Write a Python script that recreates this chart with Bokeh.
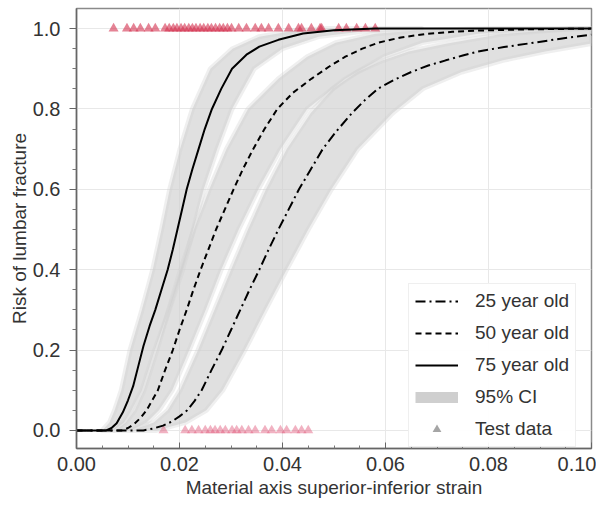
from bokeh.plotting import figure
from bokeh.models import (Range1d, FixedTicker, Legend, LegendItem, ColumnDataSource,
                          PrintfTickFormatter, Title)
from bokeh.embed import file_html
from bokeh.resources import INLINE

# ---------------- data ----------------
x_ticks = [0.00, 0.02, 0.04, 0.06, 0.08, 0.10]
x_minor = [0.005, 0.01, 0.015, 0.025, 0.03, 0.035, 0.045, 0.05, 0.055,
           0.065, 0.07, 0.075, 0.085, 0.09, 0.095]
y_ticks = [0.0, 0.2, 0.4, 0.6, 0.8, 1.0]
y_minor = [0.05, 0.1, 0.15, 0.25, 0.3, 0.35, 0.45, 0.5, 0.55, 0.65, 0.7,
           0.75, 0.85, 0.9, 0.95]

# 75 year old (solid)
r75_x = [0.0, 0.0058, 0.0068, 0.0078, 0.0090, 0.0100, 0.0110, 0.0120, 0.0130, 0.0142,
         0.0153, 0.0165, 0.0177, 0.0187, 0.0196, 0.0205, 0.0214, 0.0225, 0.0237, 0.0249,
         0.0263, 0.0281, 0.0302, 0.0330, 0.0355, 0.0392, 0.0440, 0.0500, 0.0580, 0.1000]
r75_y = [0.0, 0.0, 0.006, 0.018, 0.045, 0.075, 0.11, 0.16, 0.21, 0.26,
         0.30, 0.35, 0.40, 0.45, 0.50, 0.55, 0.60, 0.65, 0.70, 0.75,
         0.80, 0.85, 0.90, 0.935, 0.955, 0.972, 0.988, 0.996, 1.0, 1.0]
b75_y  = [0.000, 0.020, 0.050, 0.100, 0.200, 0.300, 0.400, 0.500, 0.600, 0.700, 0.800, 0.900, 0.950, 0.980, 0.995, 1.000]
b75_lo = [0.0050, 0.0064, 0.0074, 0.0087, 0.0104, 0.0127, 0.0148, 0.0165, 0.0181, 0.0201, 0.0225, 0.0260, 0.0303, 0.0355, 0.0425, 0.0490]
b75_hi = [0.0072, 0.0092, 0.0107, 0.0127, 0.0152, 0.0180, 0.0206, 0.0227, 0.0247, 0.0273, 0.0302, 0.0345, 0.0400, 0.0470, 0.0570, 0.0670]

# 50 year old (dashed)
r50_x = [0.0, 0.0088, 0.0100, 0.0112, 0.0125, 0.0136, 0.0147, 0.0158, 0.0172, 0.0187,
         0.0200, 0.0214, 0.0227, 0.0241, 0.0256, 0.0271, 0.0288, 0.0305, 0.0323, 0.0343,
         0.0365, 0.0390, 0.0420, 0.0456, 0.0490, 0.0522, 0.0555, 0.0586, 0.0630, 0.0680,
         0.0730, 0.0780, 0.0870, 0.1000]
r50_y = [0.0, 0.0, 0.006, 0.016, 0.032, 0.05, 0.075, 0.10, 0.15, 0.20,
         0.25, 0.30, 0.35, 0.40, 0.45, 0.50, 0.55, 0.60, 0.65, 0.70,
         0.75, 0.80, 0.84, 0.875, 0.905, 0.93, 0.95, 0.965, 0.978, 0.987,
         0.992, 0.995, 0.998, 1.0]
b50_y  = [0.000, 0.020, 0.050, 0.100, 0.200, 0.300, 0.400, 0.500, 0.600, 0.700, 0.800, 0.875, 0.930, 0.965, 0.987, 0.995, 1.000]
b50_lo = [0.0075, 0.0096, 0.0113, 0.0131, 0.0156, 0.0179, 0.0202, 0.0228, 0.0258, 0.0291, 0.0333, 0.0392, 0.0448, 0.0503, 0.0580, 0.0660, 0.0810]
b50_hi = [0.0105, 0.0136, 0.0160, 0.0186, 0.0219, 0.0251, 0.0281, 0.0315, 0.0353, 0.0396, 0.0448, 0.0522, 0.0597, 0.0672, 0.0780, 0.0890, 0.1000]

# 25 year old (dash-dot)
r25_x = [0.0, 0.0130, 0.0150, 0.0168, 0.0185, 0.0200, 0.0215, 0.0229, 0.0243, 0.0262,
         0.0282, 0.0300, 0.0318, 0.0336, 0.0355, 0.0373, 0.0392, 0.0412, 0.0432, 0.0455,
         0.0478, 0.0505, 0.0535, 0.0560, 0.0586, 0.0618, 0.0650, 0.0683, 0.0717, 0.0750,
         0.0780, 0.0830, 0.0878, 0.0940, 0.1000]
r25_y = [0.0, 0.0, 0.005, 0.012, 0.022, 0.035, 0.05, 0.073, 0.10, 0.15,
         0.20, 0.25, 0.30, 0.35, 0.40, 0.45, 0.50, 0.55, 0.60, 0.65,
         0.70, 0.745, 0.79, 0.822, 0.851, 0.873, 0.892, 0.908, 0.921, 0.933,
         0.943, 0.954, 0.963, 0.975, 0.985]
b25_y  = [0.000, 0.020, 0.050, 0.100, 0.200, 0.300, 0.400, 0.500, 0.600, 0.700, 0.790, 0.851, 0.892, 0.921, 0.943, 0.963, 0.985, 1.000]
b25_lo = [0.0108, 0.0150, 0.0177, 0.0201, 0.0236, 0.0268, 0.0300, 0.0333, 0.0368, 0.0408, 0.0455, 0.0498, 0.0545, 0.0595, 0.0645, 0.0720, 0.0820, 0.0960]
b25_hi = [0.0155, 0.0212, 0.0252, 0.0284, 0.0327, 0.0367, 0.0408, 0.0450, 0.0495, 0.0546, 0.0614, 0.0673, 0.0748, 0.0828, 0.0910, 0.1000, 0.1000, 0.1000]

# test data: fractured (risk 1) and not fractured (risk 0)
test_frac_x = [0.0072, 0.0098, 0.0111, 0.0124, 0.0140, 0.0153, 0.0172, 0.0180, 0.0188,
               0.0195, 0.0203, 0.0210, 0.0218, 0.0225, 0.0232, 0.0240, 0.0247, 0.0255,
               0.0262, 0.0270, 0.0278, 0.0285, 0.0293, 0.0301, 0.0315, 0.0330, 0.0347,
               0.0359, 0.0373, 0.0392, 0.0412, 0.0431, 0.0437, 0.0456, 0.0473, 0.0476,
               0.0509, 0.0524, 0.0544, 0.0561, 0.0580]
test_frac_y = [1.0] * len(test_frac_x)
test_nofrac_x = [0.0169, 0.0211, 0.0224, 0.0237, 0.0250, 0.0260, 0.0269, 0.0279, 0.0289,
                 0.0302, 0.0311, 0.0321, 0.0334, 0.0347, 0.0366, 0.0379, 0.0396, 0.0408,
                 0.0425, 0.0437, 0.0450]
test_nofrac_y = [0.0] * len(test_nofrac_x)

FONT = "Liberation Sans"

p = figure(frame_width=515, frame_height=440,
           x_range=Range1d(0.0, 0.1), y_range=Range1d(-0.045, 1.05),
           output_backend="svg", toolbar_location=None,
           min_border_left=76, min_border_right=5, min_border_top=8, min_border_bottom=44)

p.outline_line_color = "#8a8a8a"
p.outline_line_width = 1.5
p.background_fill_color = "white"

p.xgrid.grid_line_color = "#e8e8e8"
p.ygrid.grid_line_color = "#e8e8e8"

p.xaxis.ticker = FixedTicker(ticks=x_ticks, minor_ticks=x_minor)
p.yaxis.ticker = FixedTicker(ticks=y_ticks, minor_ticks=y_minor)
p.xaxis.formatter = PrintfTickFormatter(format="%.2f")
p.yaxis.formatter = PrintfTickFormatter(format="%.1f")
p.xaxis.axis_label = "Material axis superior-inferior strain"
for ax in (p.xaxis, p.yaxis):
    ax.axis_label_text_font = FONT
    ax.axis_label_text_font_style = "normal"
    ax.axis_label_text_font_size = "19px"
    ax.axis_label_text_color = "#333333"
    ax.major_label_text_font = FONT
    ax.major_label_text_font_size = "20px"
    ax.major_label_text_color = "#333333"
    ax.axis_line_color = "#666666"
    ax.axis_line_width = 1.5
    ax.major_tick_line_color = "#666666"
    ax.minor_tick_line_color = "#777777"
p.xaxis.major_tick_in = 6
p.xaxis.major_tick_out = 0
p.xaxis.minor_tick_in = 3
p.xaxis.minor_tick_out = 0
p.xaxis.major_label_standoff = 8
p.xaxis.axis_label_standoff = 3
p.yaxis.major_tick_in = 0
p.yaxis.major_tick_out = 7
p.yaxis.minor_tick_in = 0
p.yaxis.minor_tick_out = 4
p.yaxis.major_label_standoff = 9

# y-axis title as a left-side title, nudged to sit centred on the frame
p.add_layout(Title(text="Risk of lumbar fracture", align="center", offset=-37,
                   text_font=FONT, text_font_size="19px", text_font_style="normal",
                   text_color="#333333", standoff=0), "left")

# CI bands (soft edged)
band_color = "#d0d0d0"
for by, blo, bhi in ((b25_y, b25_lo, b25_hi), (b50_y, b50_lo, b50_hi), (b75_y, b75_lo, b75_hi)):
    p.patch(x=list(blo) + list(bhi[::-1]), y=list(by) + list(by[::-1]),
            fill_color=band_color, fill_alpha=0.65,
            line_color=band_color, line_alpha=0.35, line_width=5, line_join="round")

# test data
p.scatter(test_frac_x, test_frac_y, marker="triangle", size=10,
          fill_color="#d3304f", fill_alpha=0.6, line_color=None)
p.scatter(test_nofrac_x, test_nofrac_y, marker="triangle", size=10,
          fill_color="#e05577", fill_alpha=0.45, line_color=None)

# curves
l25 = p.line(r25_x, r25_y, line_color="black", line_width=2, line_dash="10 4 2 4")
l50 = p.line(r50_x, r50_y, line_color="black", line_width=2, line_dash="6 4")
l75 = p.line(r75_x, r75_y, line_color="black", line_width=2)

# legend-only renderers (a single NaN point, never drawn in the plot)
nan_src = ColumnDataSource(dict(x=[float("nan")], y=[float("nan")]))
ci_dummy = p.line("x", "y", source=nan_src, line_color="#cfcfcf", line_width=11)
tri_dummy = p.scatter("x", "y", source=nan_src, marker="triangle", size=9,
                      fill_color="#a5a5a5", line_color=None)

legend = Legend(items=[
    LegendItem(label="25 year old", renderers=[l25]),
    LegendItem(label="50 year old", renderers=[l50]),
    LegendItem(label="75 year old", renderers=[l75]),
    LegendItem(label="95% CI", renderers=[ci_dummy]),
    LegendItem(label="Test data", renderers=[tri_dummy]),
], location=(332, 1))
legend.label_text_font = FONT
legend.label_text_font_size = "19px"
legend.label_text_color = "#333333"
legend.glyph_width = 43
legend.glyph_height = 22
legend.label_height = 22
legend.label_standoff = 17
legend.spacing = 10
legend.padding = 6
legend.margin = 0
legend.border_line_color = "#e0e0e0"
legend.background_fill_color = "white"
legend.background_fill_alpha = 0.95
p.add_layout(legend)

open("out.html", "w").write(file_html(p, INLINE))
